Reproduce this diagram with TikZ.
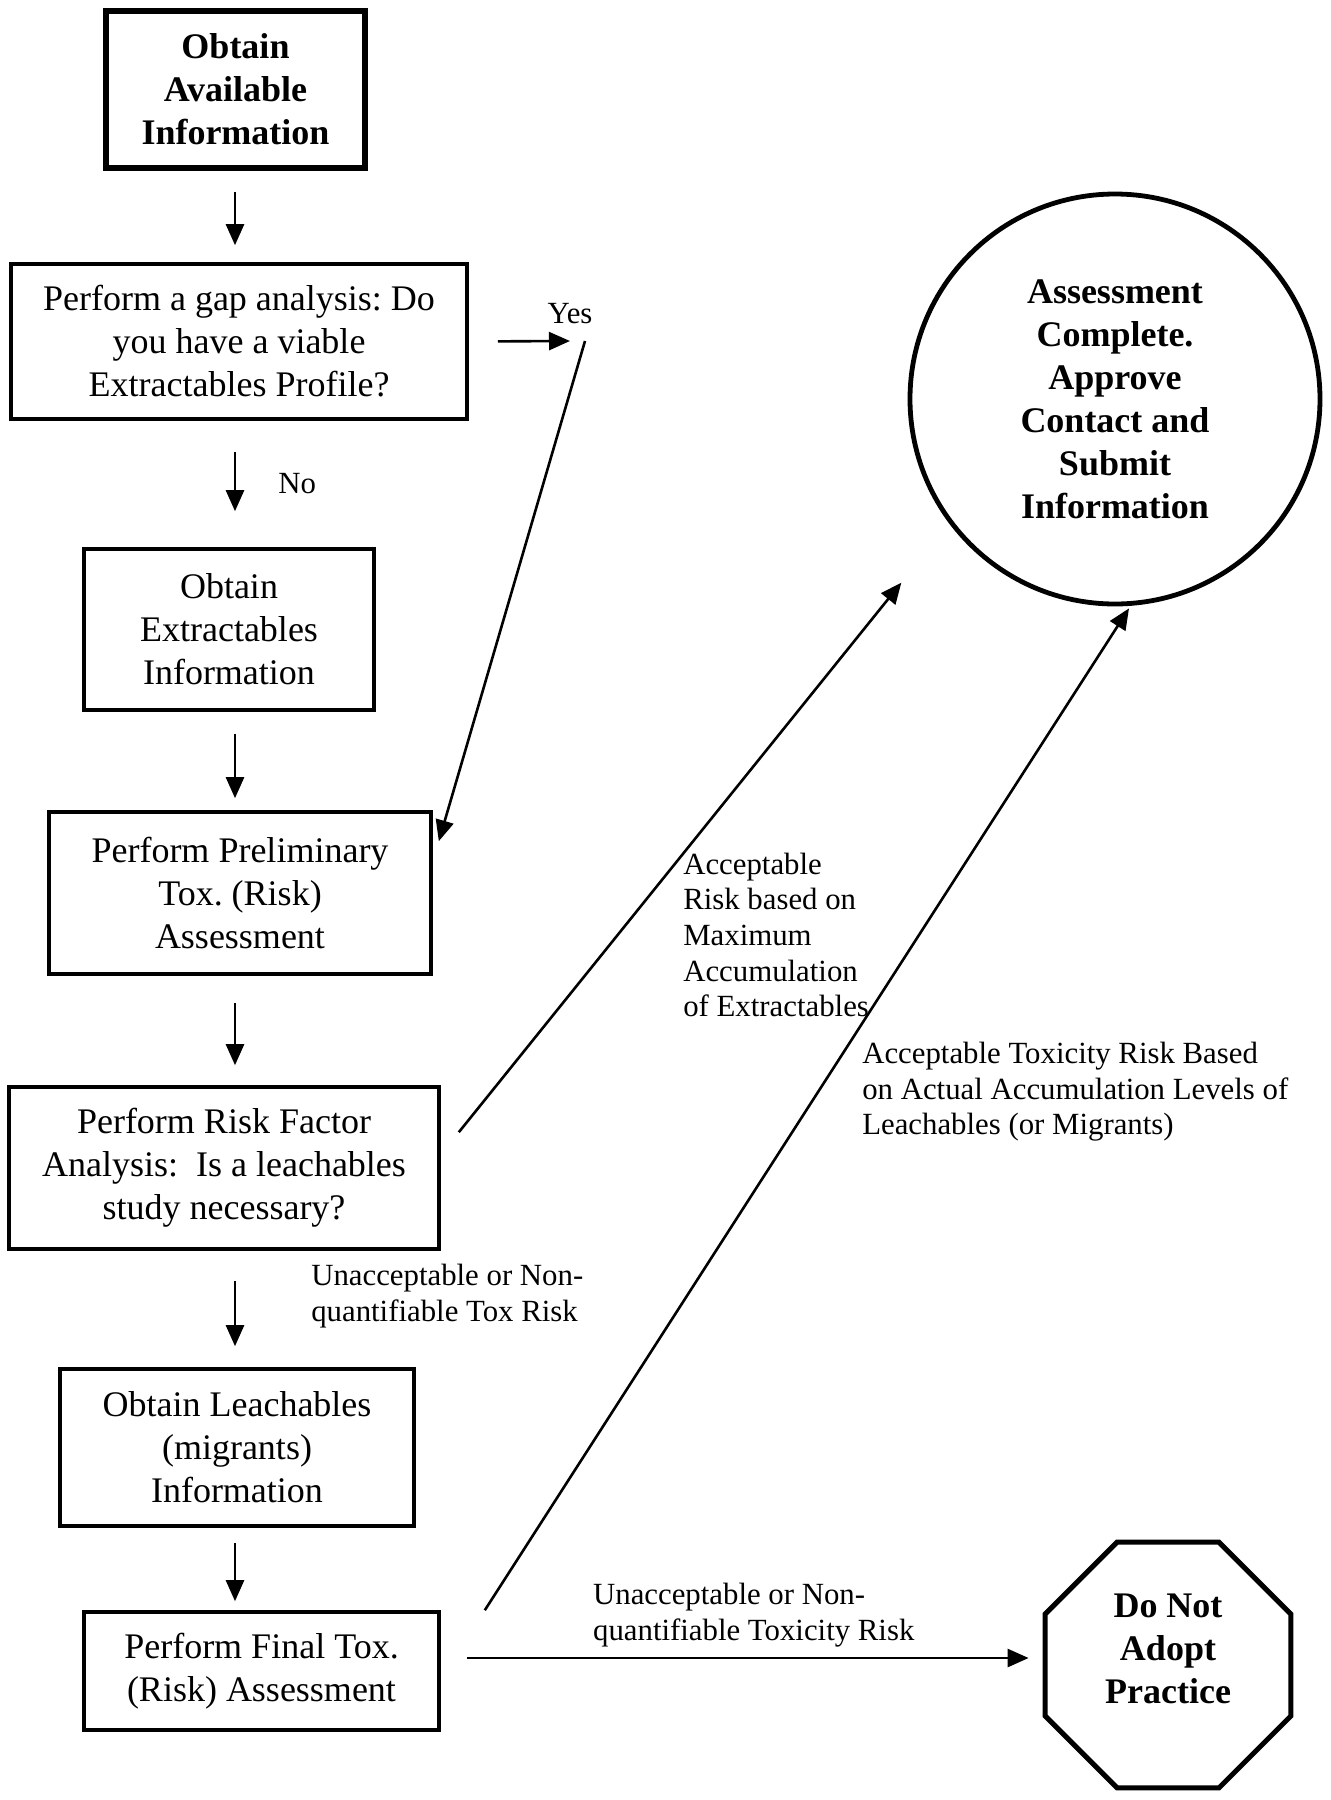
\documentclass[tikz,border=0pt]{standalone}
\usepackage{fontspec}
\setmainfont{Liberation Serif}
\usetikzlibrary{arrows.meta,shapes.geometric}
\frenchspacing

\begin{document}
\begin{tikzpicture}[x=0.5pt, y=-0.5pt, line width=1.3pt, >={Triangle[length=10.5pt,width=9pt]},
  stepbox/.style={draw, line width=1.8pt, align=center, inner sep=0pt, font=\fontsize{18}{21.5}\selectfont},
  endbox/.style={draw, line width=2.5pt, align=center, inner sep=0pt, font=\bfseries\fontsize{18}{21.5}\selectfont},
  note/.style={align=left, inner sep=0pt, font=\fontsize{15.4}{17.8}\selectfont}]
  \useasboundingbox (0,0) rectangle (1330,1800);
  \coordinate (spine) at (235,0);

  \node[endbox, line width=2.8pt, minimum width=129.5pt, minimum height=78.5pt] (info) at (235.5,89.5) {Obtain\\Available\\Information};
  \node[stepbox, minimum width=228pt, minimum height=77.5pt] (gap) at (239,341.5) {Perform a gap analysis: Do\\you have a viable\\Extractables Profile?};
  \node[stepbox, minimum width=145pt, minimum height=80.5pt] (extract) at (229,629.5) {Obtain\\Extractables\\Information};
  \node[stepbox, minimum width=191pt, minimum height=81pt] (prelim) at (240,893) {Perform Preliminary\\Tox. (Risk)\\Assessment};
  \node[stepbox, minimum width=215pt, minimum height=81pt] (riskfac) at (224,1168) {Perform Risk Factor\\Analysis:\ \ Is a leachables\\study necessary?};
  \node[stepbox, minimum width=177pt, minimum height=78.5pt] (leach) at (237,1447.5) {Obtain Leachables\\(migrants)\\Information};
  \node[stepbox, minimum width=177.5pt, minimum height=59pt] (final) at (261.5,1671) {Perform Final Tox.\\(Risk) Assessment};
  \node[endbox, circle, line width=2.4pt, minimum size=205pt] (done) at (1115,399) {Assessment\\Complete.\\Approve\\Contact and\\Submit\\Information};
  \node[endbox, regular polygon, regular polygon sides=8, minimum size=133pt, text depth=16pt] (stop) at (1168,1665) {Do Not\\Adopt\\Practice};

  \draw[->, shorten <=10.5pt, shorten >=8.5pt] (info.south -| spine) -- (gap.north -| spine);
  \draw[->, shorten <=15.5pt, shorten >=18pt] (gap.south -| spine) -- node[note, right=21pt]{No} (extract.north -| spine);
  \draw[->, shorten <=11pt, shorten >=6pt] (extract.south -| spine) -- (prelim.north -| spine);
  \draw[->, shorten <=13.5pt, shorten >=10pt] (prelim.south -| spine) -- (riskfac.north -| spine);
  \draw[->, shorten <=15pt, shorten >=10.5pt] (riskfac.south -| spine) -- (leach.north -| spine);
  \draw[->, shorten <=7.5pt, shorten >=4.5pt] (leach.south -| spine) -- (final.north -| spine);
  \node[note, anchor=west] (toxnote) at (310,1296) {Unacceptable or Non-\\quantifiable Tox Risk};

  % yes branch
  \coordinate (yestip) at (570,341);
  \coordinate (yesturn) at (585,341);
  \node[note] (yes) at (570,314) {Yes};
  \draw[->, shorten <=14.5pt] (gap.east) -- (yestip);
  \draw[->] (yesturn) -- ([shift={(3pt,-15.5pt)}]prelim.north east);

  % to the outcomes
  \draw[->] ([shift={(9pt,-23.5pt)}]riskfac.north east) -- ([shift={(-33.5pt,-18.5pt)}]done.225);
  \node[note, anchor=west] (extnote) at (682,935) {Acceptable\\Risk based on\\Maximum\\Accumulation\\of Extractables};
  \draw[->] ([xshift=22pt]final.north east) -- ([shift={(7pt,-1pt)}]done.south);
  \node[note, anchor=west] (leachnote) at (861,1092) {Acceptable Toxicity Risk Based\\on Actual Accumulation Levels of\\Leachables (or Migrants)};
  \draw[->, shorten <=13pt, shorten >=7pt] ([yshift=6.5pt]final.east) -- node[note, pos=0.52, above=5pt]{Unacceptable or Non-\\quantifiable Toxicity Risk} ([yshift=6.5pt]final.east -| stop.west);
\end{tikzpicture}
\end{document}
